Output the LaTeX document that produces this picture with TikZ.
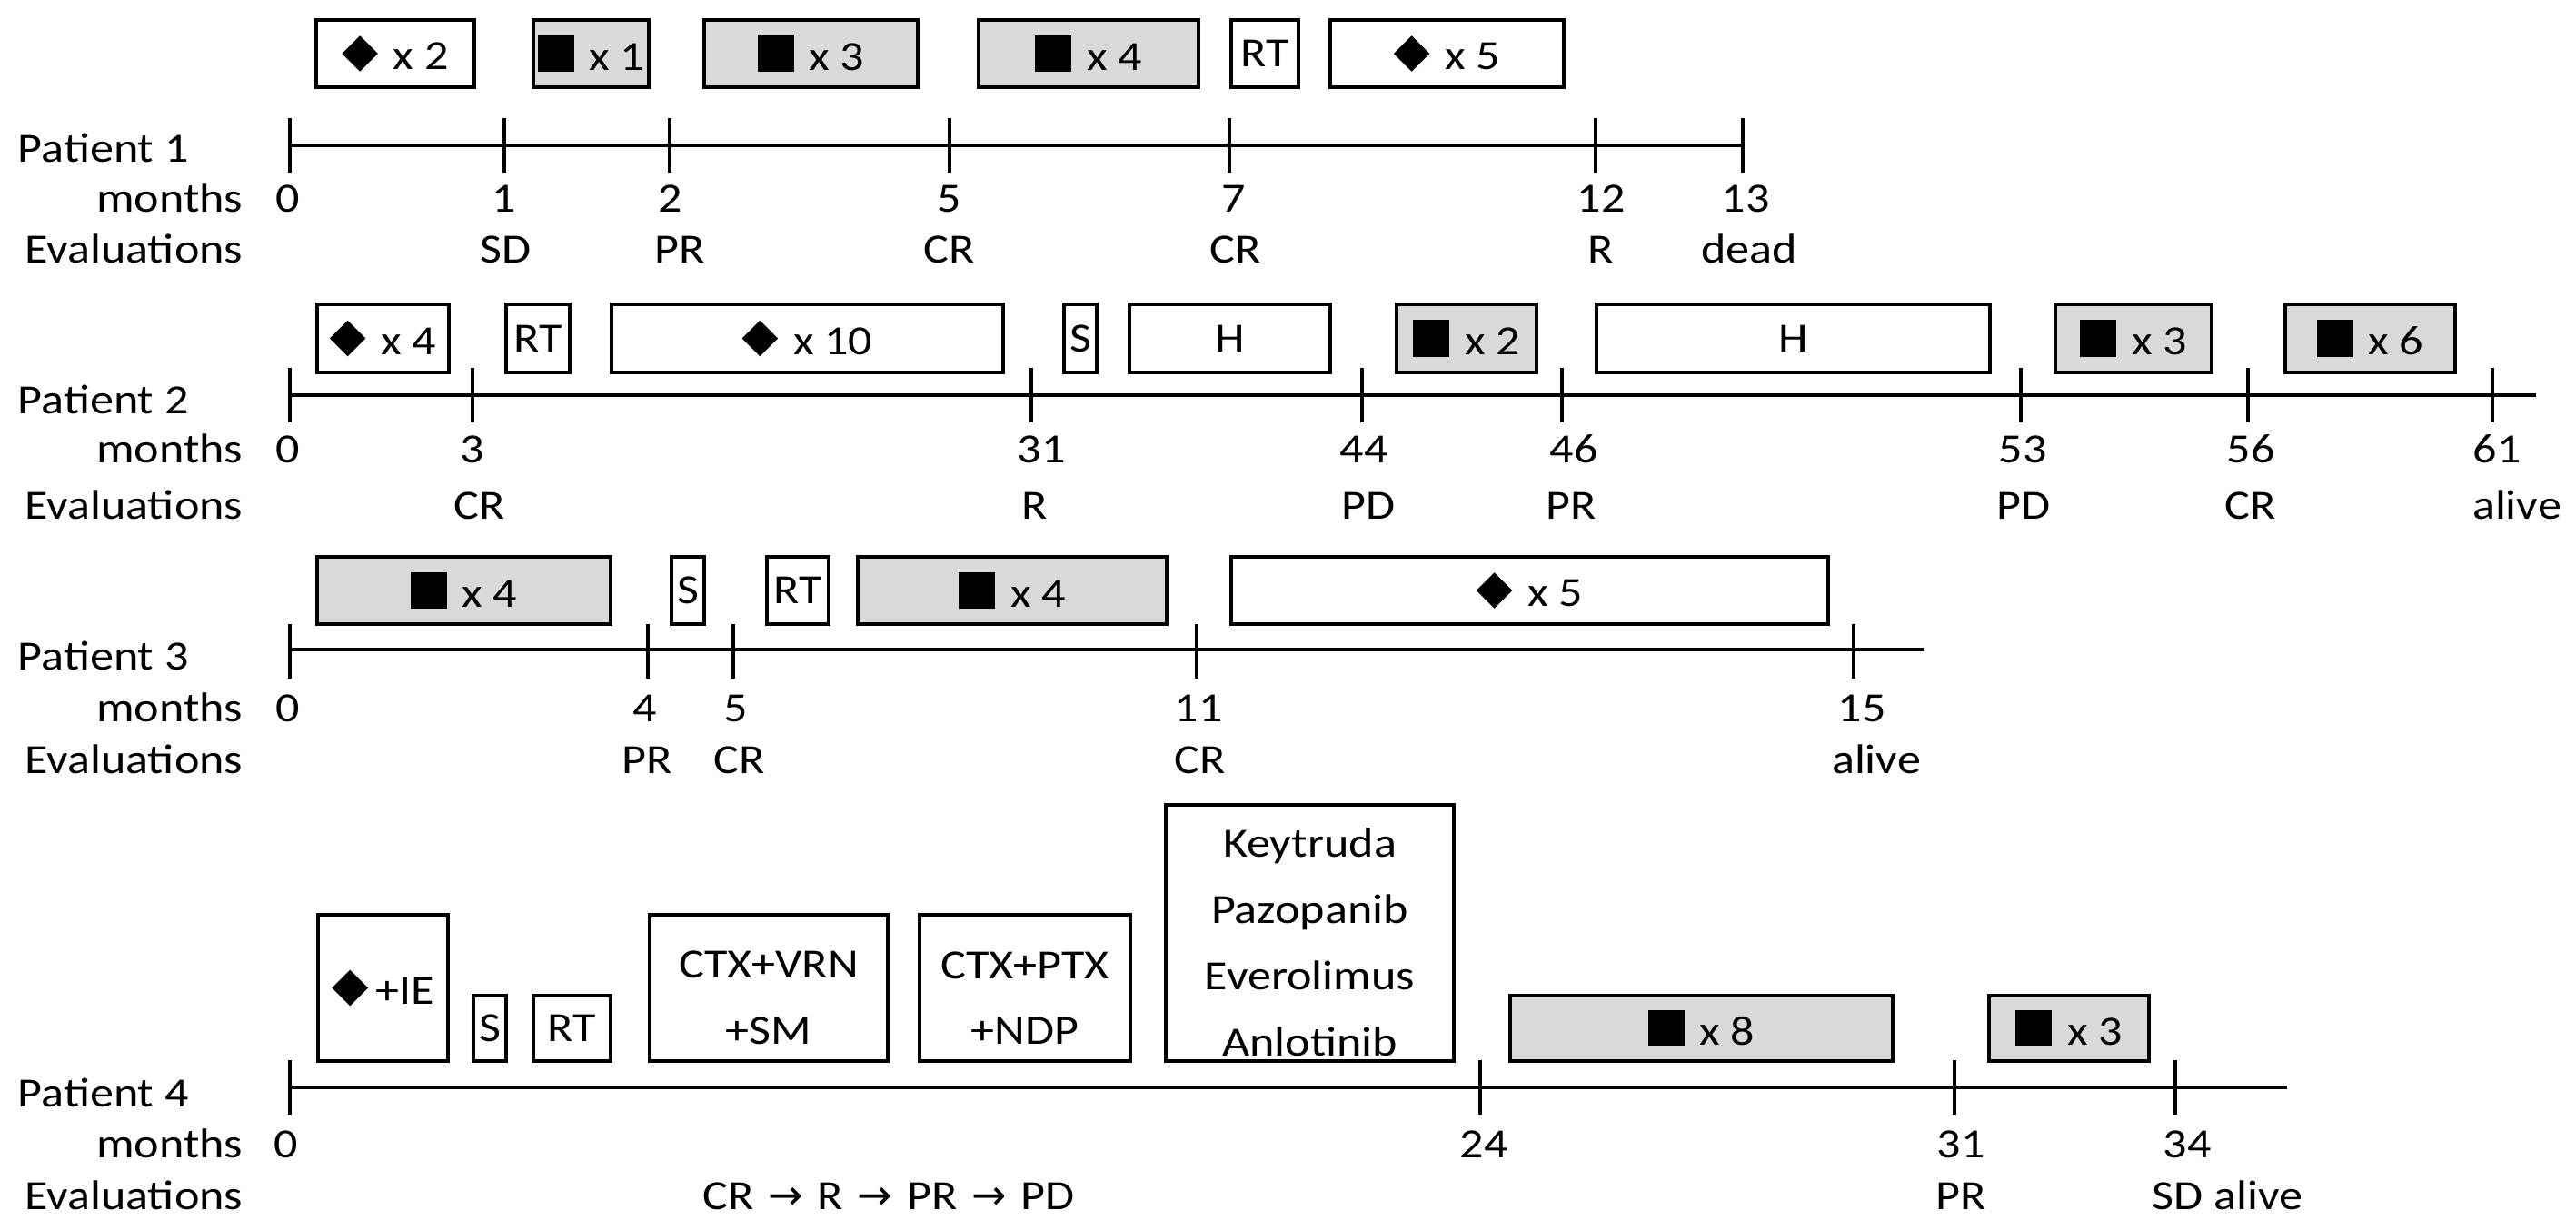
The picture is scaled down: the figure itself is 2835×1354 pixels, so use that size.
\documentclass[tikz,border=0pt]{standalone}
\usepackage{fontspec}
\setmainfont{Carlito}[FakeStretch=1.14]
\newfontfamily\arrowfont{DejaVu Sans}
\definecolor{boxgray}{RGB}{217,217,217}
\newcommand\dia{\raisebox{-0.02cm}{\rotatebox{45}{\rule{0.28cm}{0.28cm}}}}
\newcommand\sqr{\rule[-0.02cm]{0.40cm}{0.40cm}}
\newcommand\Dx[1]{\dia\hspace{0.17cm}x #1}
\newcommand\Sx[1]{\sqr\hspace{0.17cm}x #1}
\newcommand\ar{\hspace{0.16cm}{\arrowfont\symbol{"2192}}\hspace{0.16cm}}
\newcommand\topstrut{\rule{0pt}{0.52cm}}
\newcommand\bx[7]{%
 \pgfmathsetmacro\bcx{(#2+#4)/2}%
 \pgfmathsetmacro\bcy{(#3+#5)/2}%
 \pgfmathsetmacro\bw{(#4-#2)*0.01}%
 \pgfmathsetmacro\bh{(#5-#3)*0.01}%
 \node[#6, minimum width=\bw cm, minimum height=\bh cm] (#1) at (\bcx,\bcy) {#7};}
\begin{document}
\begin{tikzpicture}[x=0.01cm, y=-0.01cm,
  font=\fontsize{13}{15}\selectfont,
  tbox/.style={draw, line width=0.9pt, inner sep=0pt, align=center},
  gbox/.style={tbox, fill=boxgray},
  axisline/.style={line width=1.3pt},
  tickline/.style={line width=0.9pt},
  lbl/.style={inner sep=0pt, anchor=base},
  ml/.style={font=\fontsize{13}{20.7}\selectfont}]
\useasboundingbox[fill=white] (0,0) rectangle (2835,1354);

% ---------------- Patient 1 ----------------
\bx{a1}{348}{22}{522}{96}{tbox}{\Dx{2}}
\bx{a2}{587}{22}{714}{96}{gbox}{\Sx{1}}
\bx{a3}{775}{22}{1010}{96}{gbox}{\Sx{3}}
\bx{a4}{1077}{22}{1319}{96}{gbox}{\Sx{4}}
\bx{a5}{1355}{22}{1429}{96}{tbox}{RT}
\bx{a6}{1464}{22}{1721}{96}{tbox}{\Dx{5}}
\coordinate (p1s) at (319,160);
\coordinate (p1e) at (1918,160);
\draw[axisline] (p1s) -- (p1e);
\foreach \t in {319,555,737,1045,1353,1756,1918} \draw[tickline] (\t,130) -- (\t,190);
\node[lbl, anchor=base west] (p1name) at (19,178) {Patient 1};
\node[lbl, anchor=base east] (p1mo) at (268,233) {months};
\node[lbl, anchor=base east] (p1ev) at (268,289) {Evaluations};
\foreach \x/\t [count=\i] in {317/0,555/1,738/2,1045/5,1358/7,1762/12,1921/13}
  \node[lbl] (p1m\i) at (\x,233) {\t};
\foreach \x/\t [count=\i] in {557/SD,748/PR,1045/CR,1360/CR,1762/R,1925/dead}
  \node[lbl] (p1e\i) at (\x,289) {\t};

% ---------------- Patient 2 ----------------
\bx{b1}{349}{335}{494}{410}{tbox}{\Dx{4}}
\bx{b2}{557}{335}{627}{410}{tbox}{RT}
\bx{b3}{673}{335}{1104}{410}{tbox}{\Dx{10}}
\bx{b4}{1171}{335}{1207}{410}{tbox}{S}
\bx{b5}{1243}{335}{1464}{410}{tbox}{H}
\bx{b6}{1537}{335}{1691}{410}{gbox}{\Sx{2}}
\bx{b7}{1757}{335}{2190}{410}{tbox}{H}
\bx{b8}{2262}{335}{2434}{410}{gbox}{\Sx{3}}
\bx{b9}{2515}{335}{2702}{410}{gbox}{\Sx{6}}
\coordinate (p2s) at (319,435);
\coordinate (p2e) at (2791,435);
\draw[axisline] (p2s) -- (p2e);
\foreach \t in {319,520,1135,1499,1719,2224,2474,2743} \draw[tickline] (\t,405) -- (\t,465);
\node[lbl, anchor=base west] (p2name) at (19,455) {Patient 2};
\node[lbl, anchor=base east] (p2mo) at (268,509) {months};
\node[lbl, anchor=base east] (p2ev) at (268,571) {Evaluations};
\foreach \x/\t [count=\i] in {317/0,520/3,1146/31,1501/44,1732/46,2226/53,2477/56,2748/61}
  \node[lbl] (p2m\i) at (\x,509) {\t};
\foreach \x/\t [count=\i] in {528/CR,1139/R,1506/PD,1729/PR,2227/PD,2477/CR,2770/alive}
  \node[lbl] (p2e\i) at (\x,571) {\t};

% ---------------- Patient 3 ----------------
\bx{c1}{349}{613}{672}{687}{gbox}{\Sx{4}}
\bx{c2}{739}{613}{775}{687}{tbox}{S}
\bx{c3}{844}{613}{912}{687}{tbox}{RT}
\bx{c4}{944}{613}{1284}{687}{gbox}{\Sx{4}}
\bx{c5}{1355}{613}{2012}{687}{tbox}{\Dx{5}}
\coordinate (p3s) at (319,715);
\coordinate (p3e) at (2117,715);
\draw[axisline] (p3s) -- (p3e);
\foreach \t in {319,713,807,1317,2040} \draw[tickline] (\t,687) -- (\t,747);
\node[lbl, anchor=base west] (p3name) at (19,737) {Patient 3};
\node[lbl, anchor=base east] (p3mo) at (268,794) {months};
\node[lbl, anchor=base east] (p3ev) at (268,851) {Evaluations};
\foreach \x/\t [count=\i] in {317/0,710/4,810/5,1319/11,2049/15}
  \node[lbl] (p3m\i) at (\x,794) {\t};
\foreach \x/\t [count=\i] in {712/PR,814/CR,1321/CR,2065/alive}
  \node[lbl] (p3e\i) at (\x,851) {\t};

% ---------------- Patient 4 ----------------
\bx{d1}{350}{1007}{493}{1168}{tbox}{\dia\hspace{0.08cm}+IE}
\bx{d2}{521}{1096}{557}{1168}{tbox}{S}
\bx{d3}{587}{1096}{672}{1168}{tbox}{RT}
\bx{d4}{715}{1007}{977}{1168}{tbox,ml}{\topstrut CTX+VRN\\+SM}
\bx{d5}{1012}{1007}{1244}{1168}{tbox,ml}{\topstrut CTX+PTX\\+NDP}
\bx{d6}{1283}{886}{1600}{1168}{tbox,ml}{\topstrut Keytruda\\Pazopanib\\Everolimus\\Anlotinib}
\bx{d7}{1662}{1096}{2083}{1168}{gbox}{\Sx{8}}
\bx{d8}{2189}{1096}{2365}{1168}{gbox}{\Sx{3}}
\coordinate (p4s) at (319,1197);
\coordinate (p4e) at (2517,1197);
\draw[axisline] (p4s) -- (p4e);
\foreach \t in {319,1629,2151,2394} \draw[tickline] (\t,1167) -- (\t,1227);
\node[lbl, anchor=base west] (p4name) at (19,1218) {Patient 4};
\node[lbl, anchor=base east] (p4mo) at (268,1274) {months};
\node[lbl, anchor=base east] (p4ev) at (268,1331) {Evaluations};
\foreach \x/\t [count=\i] in {315/0,1633/24,2158/31,2407/34}
  \node[lbl] (p4m\i) at (\x,1274) {\t};
\node[lbl] (p4e1) at (978,1331) {CR\ar R\ar PR\ar PD};
\node[lbl] (p4e2) at (2158,1331) {PR};
\node[lbl, anchor=base west] (p4e3) at (2368,1331) {SD alive};
\end{tikzpicture}
\end{document}
